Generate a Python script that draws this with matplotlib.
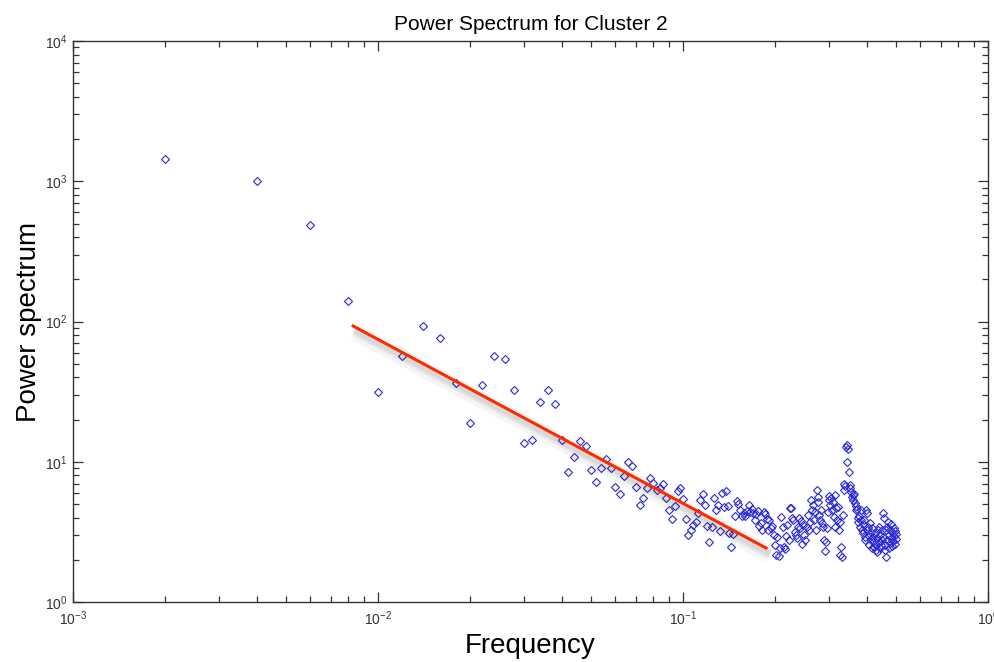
#!/usr/bin/env python3
"""Power spectrum of cluster 2 with a power-law fit line (log-log)."""

import numpy as np
import matplotlib
matplotlib.use('Agg')  # Non-interactive backend
import matplotlib.pyplot as plt
import matplotlib.patheffects as pe

# FFT bin numbers (500-sample window, so f = k / 500)
bin_index = np.arange(1, 251)
n_samples = 500

# Power per bin
power = [
    1450, 1000, 485, 140, 31.5, 57, 93, 76, 36.5, 18.8,
    35, 56.5, 54.5, 32.7, 13.7, 14.3, 26.7, 32.7, 26, 14.2,
    8.5, 10.9, 14, 12.9, 8.8, 7.2, 9.0, 10.5, 9.1, 6.6,
    5.9, 7.9, 10, 9.3, 6.6, 4.9, 5.5, 6.5, 7.65, 7.05,
    6.3, 6.55, 6.93, 5.5, 4.54, 3.9, 4.8, 6.2, 6.55, 5.4,
    3.9, 3.0, 3.27, 3.55, 3.7, 4.3, 5.35, 5.9, 4.95, 3.49,
    2.7, 3.42, 5.5, 4.54, 4.9, 3.23, 6.0, 4.75, 6.24, 4.8,
    3.1, 2.46, 3.06, 4.13, 5.27, 4.99, 4.54, 4.1, 4.3, 4.1,
    4.46, 4.93, 4.4, 4.6, 4.32, 3.85, 4.25, 4.46, 3.49, 3.66,
    3.27, 4.4, 4.25, 3.91, 3.27, 3.85, 3.38, 3.49, 3.01, 2.55,
    2.17, 2.91, 2.13, 2.43, 4.05, 3.43, 2.47, 2.39, 2.96, 3.55,
    2.77, 4.69, 4.69, 3.98, 3.85, 3.16, 3.01, 2.86, 3.43, 3.98,
    3.38, 3.79, 2.6, 3.55, 3.01, 2.77, 3.43, 4.18, 3.27, 3.73,
    5.35, 4.54, 4.93, 3.85, 4.4, 3.27, 6.3, 5.6, 5.18, 4.18,
    3.85, 4.54, 3.66, 3.43, 2.77, 2.31, 2.68, 3.38, 4.4, 5.35,
    5.7, 4.93, 5.53, 4.54, 5.18, 4.05, 3.43, 5.8, 4.69, 3.85,
    4.76, 3.27, 2.17, 3.73, 2.47, 2.1, 4.18, 6.3, 6.96, 6.74,
    12.8, 10.0, 13.2, 12.4, 8.5, 6.85, 6.5, 6.1, 5.6, 5.8,
    5.35, 5.9, 5.1, 4.54, 4.84, 4.6, 3.98, 3.73, 4.1, 3.43,
    4.54, 3.85, 3.27, 3.6, 3.11, 3.85, 2.77, 2.91, 4.54, 3.27,
    4.32, 3.43, 2.55, 2.96, 3.66, 2.77, 3.16, 2.43, 3.38, 2.91,
    2.47, 2.73, 3.11, 2.35, 2.55, 2.86, 2.27, 3.27, 2.68, 3.43,
    2.43, 3.01, 2.55, 2.77, 3.27, 2.91, 4.32, 3.98, 2.55, 2.35,
    3.27, 2.1, 2.77, 3.43, 3.73, 3.01, 2.43, 2.64, 3.27, 3.6,
    2.86, 2.51, 3.16, 2.73, 3.38, 2.96, 2.6, 3.21, 2.82, 3.06,
]

# Endpoints of the fitted power law
fit_freq = [0.0082, 0.189]
fit_power = [94, 2.4]

TITLE = 'Power Spectrum for Cluster 2'

plt.rcParams['font.family'] = ['Liberation Sans', 'DejaVu Sans']
plt.rcParams['mathtext.fontset'] = 'custom'
plt.rcParams['mathtext.rm'] = 'Liberation Sans'
plt.rcParams['mathtext.it'] = 'Liberation Sans'
plt.rcParams['mathtext.default'] = 'regular'


def plot_spectrum():
    freq = bin_index / n_samples

    fig = plt.figure(figsize=(9.95, 6.62), dpi=100)
    ax = fig.add_axes([0.0734, 0.0906, 0.9196, 0.8474])

    ax.plot(freq, power, 'D', color='#2a2ad4', markerfacecolor='none',
            markersize=3.7, markeredgewidth=0.8, linestyle='none')

    # soft grey drop shadow under the fit line
    shadow = [
        pe.SimpleLineShadow(offset=(2, -4.5), shadow_color='black', alpha=0.04, linewidth=12),
        pe.SimpleLineShadow(offset=(2, -4), shadow_color='black', alpha=0.06, linewidth=7),
        pe.SimpleLineShadow(offset=(1.5, -3.5), shadow_color='black', alpha=0.06, linewidth=4),
        pe.Normal(),
    ]
    ax.plot(fit_freq, fit_power, '-', color='#ff2a00', linewidth=2.2,
            solid_capstyle='butt', path_effects=shadow)

    ax.set_xscale('log')
    ax.set_yscale('log')
    ax.set_xlim(1e-3, 1e0)
    ax.set_ylim(1e0, 1e4)

    ax.tick_params(which='both', direction='in', top=True, right=True,
                   labelsize=10, colors='#333333', labelcolor='#333333')
    ax.tick_params(which='major', length=7, width=0.9)
    ax.tick_params(which='minor', length=4, width=0.9)
    ax.tick_params(axis='x', which='major', pad=5)
    ax.tick_params(axis='y', which='major', pad=4)
    for spine in ax.spines.values():
        spine.set_linewidth(1.0)
        spine.set_color('#333333')

    ax.set_title(TITLE, fontsize=15, pad=8)
    ax.set_xlabel('Frequency', fontsize=20, labelpad=4)
    ax.set_ylabel('Power spectrum', fontsize=20, labelpad=2)

    fig.savefig('out.png', dpi=100)


def main():
    plot_spectrum()


if __name__ == "__main__":
    main()
